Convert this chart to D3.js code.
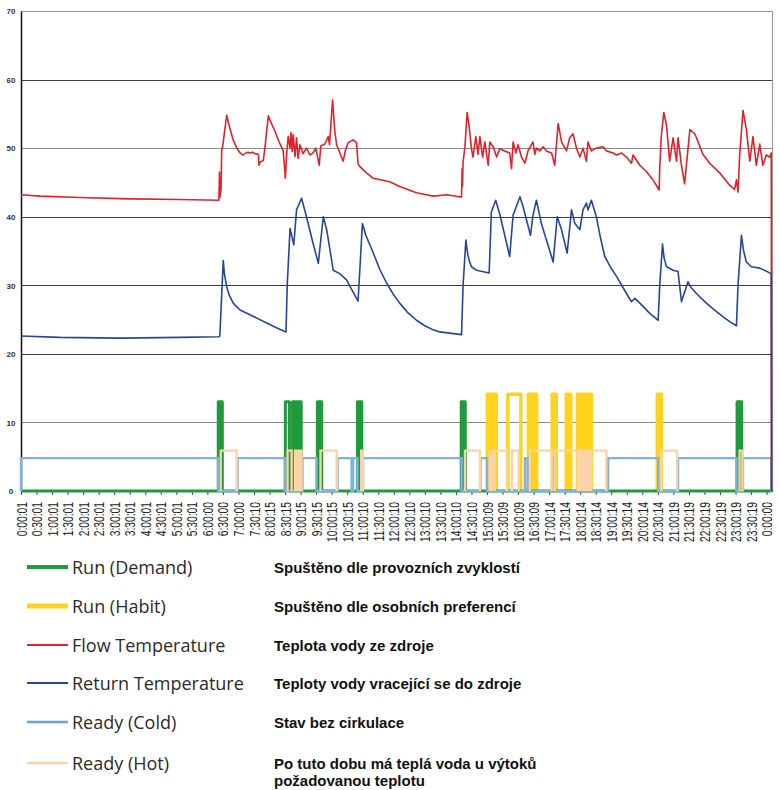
<!DOCTYPE html>
<html>
<head>
<meta charset="utf-8">
<script src="https://cdn.jsdelivr.net/npm/d3@7"></script>
<style>
  html, body { margin: 0; padding: 0; background: #fff; }
  svg { display: block; }
</style>
</head>
<body>
<svg id="chart" width="780" height="790"></svg>
<script>
// ---------------- DATA ----------------
const timeLabels = ["0:00:01","0:30:01","1:00:01","1:30:01","2:00:01","2:30:01","3:00:01","3:30:01","4:00:01","4:30:01","5:00:01","5:30:01","6:00:00","6:30:00","7:00:00","7:30:10","8:00:15","8:30:15","9:00:15","9:30:15","10:00:15","10:30:15","11:00:10","11:30:10","12:00:10","12:30:10","13:00:10","13:30:10","14:00:10","14:30:10","15:00:09","15:30:09","16:00:09","16:30:09","17:00:14","17:30:14","18:00:14","18:30:14","19:00:14","19:30:14","20:00:14","20:30:14","21:00:19","21:30:19","22:00:19","22:30:19","23:00:19","23:30:19","0:00:00"];
// tick positions in hours (one label every 30 minutes)
const tickHours = timeLabels.map((_, i) => i / 2);
const yTicks = [0, 10, 20, 30, 40, 50, 60, 70];

// Flow temperature [hour, °C]
const flowTemp = [[0,43.2],[0.61,43.0],[1.90,42.8],[3.51,42.6],[5.12,42.5],[6.37,42.4],[6.39,46.5],[6.40,42.8],[6.44,44.0],[6.46,49.7],[6.50,50.5],[6.62,54.8],[6.70,53.3],[6.83,51.2],[6.95,50.0],[7.05,49.3],[7.13,49.0],[7.21,49.2],[7.30,49.4],[7.37,49.3],[7.45,49.4],[7.53,49.2],[7.64,49.1],[7.66,47.5],[7.70,48.0],[7.80,48.2],[7.85,50.0],[7.96,54.7],[8.05,53.7],[8.17,52.5],[8.30,51.0],[8.44,49.6],[8.51,45.6],[8.55,49.0],[8.60,51.7],[8.66,50.0],[8.69,52.3],[8.73,49.5],[8.76,52.0],[8.82,48.8],[8.87,51.5],[8.92,48.5],[8.98,50.5],[9.08,49.2],[9.19,50.0],[9.30,49.0],[9.40,49.3],[9.49,50.0],[9.60,47.5],[9.65,50.3],[9.78,50.6],[9.89,51.7],[9.93,50.5],[10.03,57.0],[10.10,52.5],[10.16,50.5],[10.37,48.1],[10.45,49.8],[10.53,50.8],[10.69,51.2],[10.80,50.8],[10.85,47.7],[10.91,47.3],[11.00,46.9],[11.12,46.4],[11.34,45.6],[11.87,45.1],[12.19,44.4],[12.73,43.5],[13.27,43.0],[13.70,43.2],[14.12,42.9],[14.18,42.9],[14.20,47.0],[14.21,44.5],[14.23,48.0],[14.29,50.2],[14.36,55.2],[14.43,53.0],[14.50,49.9],[14.55,48.7],[14.64,51.7],[14.71,49.1],[14.77,51.7],[14.86,48.7],[14.93,50.9],[15.04,47.5],[15.09,50.9],[15.20,50.2],[15.31,48.7],[15.41,49.9],[15.57,49.6],[15.73,49.3],[15.79,47.0],[15.84,50.9],[15.93,49.3],[16.00,50.5],[16.11,48.7],[16.22,47.8],[16.32,49.6],[16.48,50.9],[16.54,49.1],[16.59,50.0],[16.70,49.6],[16.81,50.2],[16.91,49.6],[17.08,49.3],[17.18,47.5],[17.29,53.6],[17.40,50.9],[17.56,49.6],[17.66,51.5],[17.77,52.1],[17.88,50.0],[17.99,48.7],[18.09,50.0],[18.20,48.1],[18.25,50.9],[18.36,49.6],[18.52,50.0],[18.74,50.2],[18.84,49.6],[19.06,49.3],[19.17,49.0],[19.33,49.3],[19.49,48.7],[19.65,47.8],[19.70,49.0],[19.92,47.5],[20.13,46.6],[20.34,45.4],[20.54,43.9],[20.56,47.0],[20.61,51.7],[20.69,55.2],[20.78,53.3],[20.88,48.1],[20.99,51.5],[21.10,48.1],[21.15,51.5],[21.26,47.5],[21.36,44.8],[21.53,52.7],[21.69,52.1],[21.95,49.1],[22.17,47.8],[22.49,46.4],[22.81,44.6],[22.97,44.0],[23.03,45.4],[23.08,43.6],[23.13,48.7],[23.24,55.5],[23.35,52.7],[23.46,48.1],[23.56,51.7],[23.67,47.5],[23.78,50.6],[23.88,47.5],[23.99,49.0],[24.10,48.7],[24.15,49.3],[24.16,0]];

// Return temperature [hour, °C]
const returnTemp = [[0,22.6],[1.25,22.4],[3.19,22.3],[5.12,22.4],[6.37,22.5],[6.40,22.6],[6.51,33.6],[6.55,31.6],[6.62,29.8],[6.70,28.6],[6.83,27.4],[7.05,26.4],[7.37,25.7],[7.64,25.1],[7.91,24.5],[8.22,23.8],[8.53,23.2],[8.57,30.0],[8.66,38.3],[8.78,35.9],[8.87,41.0],[9.03,42.7],[9.19,40.0],[9.38,36.5],[9.57,33.2],[9.73,40.0],[9.84,38.1],[10.05,32.2],[10.26,31.7],[10.48,30.8],[10.80,28.1],[10.85,27.7],[10.99,39.0],[11.10,37.3],[11.34,34.7],[11.55,32.3],[11.77,30.3],[11.98,28.7],[12.19,27.4],[12.45,26.0],[12.73,24.9],[13.00,24.1],[13.27,23.5],[13.48,23.2],[14.18,22.8],[14.23,30.0],[14.32,36.6],[14.38,34.5],[14.45,33.3],[14.50,32.7],[14.66,32.2],[15.07,31.8],[15.14,40.7],[15.28,42.4],[15.41,40.4],[15.73,34.2],[15.84,40.2],[16.06,42.9],[16.16,41.5],[16.40,37.3],[16.48,40.2],[16.59,42.4],[16.75,39.0],[17.13,33.4],[17.26,40.0],[17.40,38.1],[17.58,34.7],[17.72,41.0],[17.83,39.0],[17.99,38.1],[18.09,41.0],[18.20,42.0],[18.25,41.0],[18.36,42.4],[18.52,40.0],[18.65,37.0],[18.79,34.2],[18.98,32.6],[19.17,31.3],[19.49,28.8],[19.65,27.6],[19.76,28.1],[19.92,27.4],[20.24,25.9],[20.51,24.9],[20.56,30.0],[20.65,36.0],[20.70,34.0],[20.78,32.7],[20.99,32.2],[21.15,32.0],[21.26,27.6],[21.47,30.5],[21.55,29.8],[21.74,28.8],[22.06,27.4],[22.30,26.5],[22.60,25.4],[22.85,24.6],[23.03,24.1],[23.08,30.0],[23.19,37.3],[23.26,35.0],[23.35,33.4],[23.51,32.7],[23.78,32.5],[24.15,31.7],[24.16,0]];

// On/off states: [start hour, end hour] while the state is active
const runDemandLevel = 13.0;
const runDemand = [[6.35,6.40],[6.44,6.48],[8.51,8.64],[8.74,8.78],[8.82,8.86],[8.90,8.94],[8.98,9.02],[9.54,9.59],[9.62,9.68],[10.83,10.87],[10.91,10.97],[14.17,14.22],[14.25,14.30],[23.05,23.10],[23.13,23.20]];

const runHabitLevel = 14.1;
const runHabit = [[15.01,15.06],[15.09,15.14],[15.17,15.22],[15.25,15.30],[15.67,16.09],[16.33,16.38],[16.41,16.46],[16.49,16.54],[16.57,16.60],[17.10,17.15],[17.18,17.23],[17.55,17.60],[17.63,17.70],[17.91,17.95],[17.99,18.03],[18.07,18.11],[18.15,18.19],[18.23,18.28],[18.31,18.36],[20.48,20.53],[20.56,20.61]];

const readyColdLevel = 4.8;
const readyCold = [[0,6.35],[6.97,8.49],[9.06,9.51],[10.19,10.64],[10.69,10.83],[11.01,14.18],[14.79,15.00],[16.22,16.31],[17.12,17.18],[18.90,20.51],[21.15,23.03],[23.24,24.15]];

const readyHotLevel = 5.9;
const readyHot = [[6.43,6.94],[8.58,8.71],[8.82,8.87],[8.90,8.95],[8.98,9.03],[9.64,10.16],[10.95,11.00],[14.29,14.77],[15.09,15.14],[15.17,15.22],[15.25,15.64],[15.80,16.02],[16.38,17.08],[17.18,17.92],[17.95,18.00],[18.03,18.08],[18.11,18.16],[18.19,18.24],[18.27,18.32],[18.35,18.84],[20.61,21.12],[23.13,23.22]];

const legendNames = ["Run (Demand)","Run (Habit)","Flow Temperature","Return Temperature","Ready (Cold)","Ready (Hot)"];
const legendNotes = [["Spuštěno dle provozních zvyklostí"],["Spuštěno dle osobních preferencí"],["Teplota vody ze zdroje"],["Teploty vody vracející se do zdroje"],["Stav bez cirkulace"],["Po tuto dobu má teplá voda u výtoků","požadovanou teplotu"]];

// ---------------- CHART ----------------
const svg = d3.select("#chart");
const x = d3.scaleLinear().domain([0, 24.19]).range([21, 772.5]);
const y = d3.scaleLinear().domain([0, 70]).range([491, 11]);

const colors = {
  demand: "#1f9a3c", habit: "#ffd21e", flow: "#e3202b", ret: "#27459c",
  cold: "#7fb1e2", hot: "#fbd3a6"
};

// gridlines
svg.append("g").selectAll("line").data(yTicks.filter(d => d > 0 && d < 70)).join("line")
  .attr("x1", x(0)).attr("x2", x.range()[1])
  .attr("y1", d => Math.round(y(d)) + 0.5).attr("y2", d => Math.round(y(d)) + 0.5)
  .attr("stroke", d => (d === 50 || d === 10) ? "#8c8c8c" : "#3c3c3c")
  .attr("stroke-width", 1.1);

// top & right border
svg.append("path")
  .attr("d", `M${x(0)},${y(70)+0.5}H${x.range()[1]}V${y(0)}`)
  .attr("fill", "none").attr("stroke", "#9a9a9a").attr("stroke-width", 1.2);

// x axis
const xAxis = svg.append("g").attr("transform", `translate(0,${y(0)})`)
  .call(d3.axisBottom(x).tickValues(tickHours).tickFormat((d, i) => timeLabels[i]).tickSize(4).tickSizeOuter(0));
xAxis.select(".domain").attr("stroke", "#333").attr("stroke-width", 1.2);
xAxis.selectAll(".tick line").attr("stroke", "#444");
xAxis.selectAll(".tick text")
  .attr("x", 0).attr("y", 0).attr("dy", "0.36em")
  .attr("text-anchor", "end")
  .attr("transform", "translate(0,11) rotate(-90) scale(1,1.35)")
  .attr("font-family", "'Liberation Sans', Arial, sans-serif")
  .attr("font-size", 10.3).attr("fill", "#222");

// y axis
const yAxis = svg.append("g").attr("transform", `translate(${x(0)},0)`)
  .call(d3.axisLeft(y).tickValues(yTicks).tickSize(0).tickSizeOuter(0));
yAxis.select(".domain").attr("stroke", "#111").attr("stroke-width", 1.5);
yAxis.selectAll(".tick text")
  .attr("x", -10).attr("text-anchor", "middle").attr("dy", "0.35em")
  .attr("font-family", "'Liberation Sans', Arial, sans-serif")
  .attr("font-size", 8).attr("font-weight", "bold").attr("fill", "#333");

// step series helpers
function stepPoints(intervals, level) {
  const pts = [[0, 0]];
  intervals.forEach(([s, e]) => { pts.push([s, 0], [s, level], [e, level], [e, 0]); });
  pts.push([24.16, 0]);
  return pts;
}
function stepSegments(intervals, level) {
  return intervals.map(([s, e]) => `M${x(s)},${y(0)}V${y(level)}H${x(e)}V${y(0)}`).join("");
}
const line = d3.line().x(d => x(d[0])).y(d => y(d[1]));

svg.append("path").attr("d", stepSegments(runHabit, runHabitLevel))
  .attr("fill", "none").attr("stroke", colors.habit).attr("stroke-width", 3.4).attr("stroke-linejoin", "round");
svg.append("path").attr("d", line(stepPoints(runDemand, runDemandLevel)))
  .attr("fill", "none").attr("stroke", colors.demand).attr("stroke-width", 3).attr("stroke-linejoin", "round");
svg.append("path").attr("d", line(stepPoints(readyCold, readyColdLevel)))
  .attr("fill", "none").attr("stroke", colors.cold).attr("stroke-width", 2.4);
svg.append("path").attr("d", stepSegments(readyHot, readyHotLevel))
  .attr("fill", "none").attr("stroke", colors.hot).attr("stroke-width", 2.3);

svg.append("path").attr("d", line(flowTemp))
  .attr("fill", "none").attr("stroke", colors.flow).attr("stroke-width", 1.6).attr("stroke-linejoin", "round");
svg.append("path").attr("d", line(returnTemp))
  .attr("fill", "none").attr("stroke", colors.ret).attr("stroke-width", 1.6).attr("stroke-linejoin", "round");

// ---------------- LEGEND ----------------
const legendRowsY = [567, 606, 645, 683, 722, 763];
const legendStyle = [
  {c: colors.demand, w: 4}, {c: colors.habit, w: 5}, {c: colors.flow, w: 1.8},
  {c: colors.ret, w: 1.8}, {c: "#6aa6de", w: 2.6}, {c: colors.hot, w: 2.6}
];
const lg = svg.append("g");
legendNames.forEach((name, i) => {
  const yy = legendRowsY[i];
  lg.append("line").attr("x1", 27).attr("x2", 68).attr("y1", yy).attr("y2", yy)
    .attr("stroke", legendStyle[i].c).attr("stroke-width", legendStyle[i].w);
  lg.append("text").attr("x", 72).attr("y", yy + 7)
    .attr("font-family", "'Open Sans', 'Noto Sans', sans-serif").attr("font-size", 18)
    .attr("fill", "#2b2b2b").text(name);
  const notes = legendNotes[i];
  notes.forEach((t, j) => {
    lg.append("text").attr("x", 274)
      .attr("y", notes.length > 1 ? yy + 6 + j * 16.5 : yy + 5.5)
      .attr("font-family", "'Liberation Sans', Arial, sans-serif").attr("font-size", 15)
      .attr("font-weight", "bold").attr("fill", "#111").text(t);
  });
});
</script>
</body>
</html>
